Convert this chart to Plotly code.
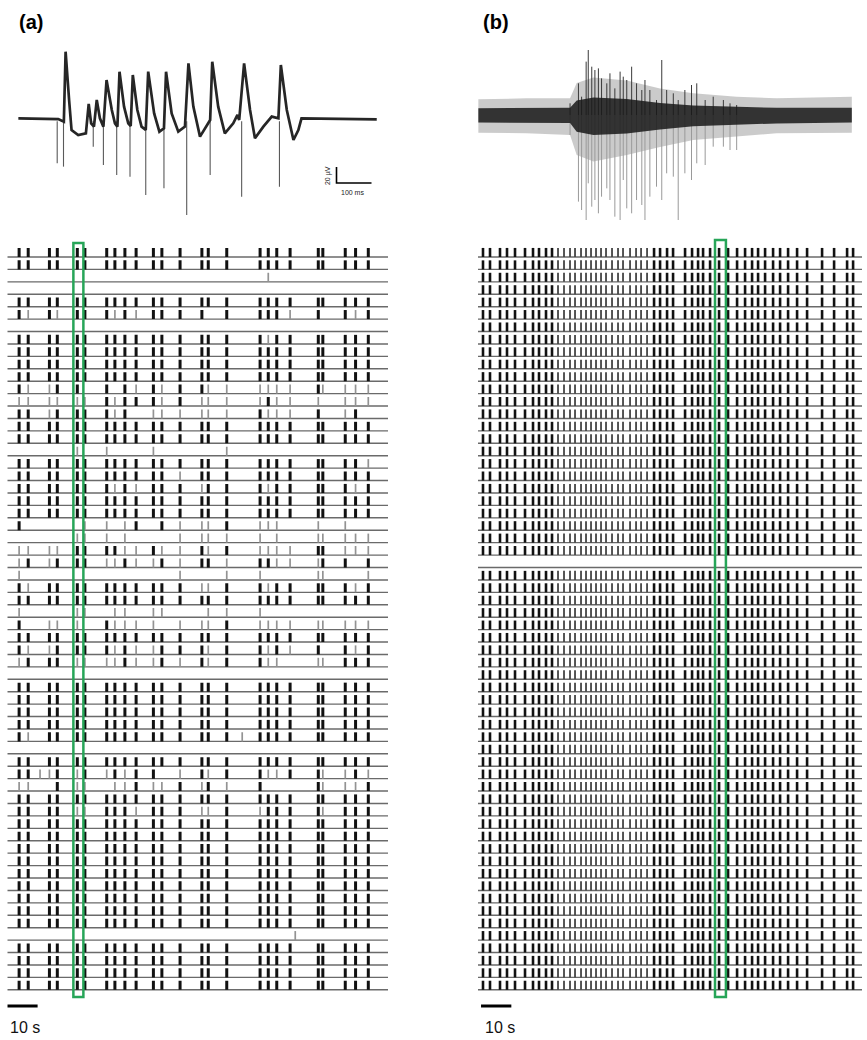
import plotly.graph_objects as go

W, H = 867, 1040

# ---------------- (a) top trace: slow waveform (ms, µV) ----------------
a_wave_ms = [1, 115, 131, 136, 146, 153, 172, 194, 202, 209, 217, 225, 234, 244, 253, 268, 277, 284,
             290, 303, 315, 322, 328, 341, 353, 365, 372, 389, 404, 417, 423, 439, 458, 477, 487, 501,
             520, 544, 549, 555, 572, 591, 615, 627, 632, 646, 663, 677, 701, 725, 744, 751, 768, 787,
             801, 810, 1025]
a_wave_uv = [-0.4, -1.3, -4.6, 82.9, 22.5, -15, -21.3, -19.2, 17.5, -6.7, -10.8, 22.5, -0.4, -10.8,
             47.5, 10, -6.7, -10.8, 57.9, 14.2, -6.7, -10, 53.8, 10, -10.8, -15, 57.9, 5.8, -17.1,
             -12.9, 57.9, 5.8, -17.1, -10.8, 68.3, 14.2, -23.3, -6.7, -2.5, 70.4, 14.2, -19.2, -6.7,
             3.8, -2.5, 68.3, 10, -25.4, -10.8, 1.7, -0.4, 66.3, 10, -27.5, -15, -0.4, -1.7]
# fast downward spikes (ms, trough µV)
a_spike_ms = [112, 130, 215, 244, 282, 320, 365, 417, 482, 549, 639, 747]
a_spike_uv = [-56.7, -60.8, -35.8, -58.8, -71.3, -73.3, -96.3, -87.9, -121.3, -71.3, -98.3, -85.8]

# ---------------- (b) top trace: noise band envelopes + spikes ----------------
b_env_ms = [1, 139, 263, 282, 330, 425, 520, 615, 739, 853, 1068]
b_core_hi = [8.5, 8.5, 9, 18, 22, 20, 15, 12, 10, 9, 9]
b_core_lo = [-9.5, -9.5, -10, -21, -25, -23, -18, -14, -12, -10.5, -9.5]
b_fringe_hi = [19.6, 20.8, 20.8, 40, 47, 43, 33, 27.1, 22.9, 20.8, 22.9]
b_fringe_lo = [-22.1, -22.9, -25, -50, -58, -50, -40, -31.3, -27.1, -22.9, -22.1]
b_spike_ms = [263, 287, 296, 309, 315, 325, 334, 344, 353, 368, 377, 391, 406, 415, 425, 439, 453,
              468, 477, 491, 510, 525, 539, 558, 572, 591, 610, 625, 649, 672, 701, 720, 739]
b_spike_top = [14.6, 39.6, 22.9, 66.7, 81.25, 60.4, 56.25, 58.3, 45.8, 39.6, 52.1, 33.3, 54.2, 47.9,
               43.75, 60.4, 39.6, 31.25, 43.75, 31.25, 18.75, 68.75, 31.25, 27.1, 18.75, 31.25, 37.5,
               39.6, 18.75, 22.9, 18.75, 14.6, 12.5]
b_spike_bot = [-25, -108.3, -118.75, -131.25, -85.4, -114.6, -106.25, -122.9, -102.1, -91.7, -106.25,
               -127.1, -131.25, -81.25, -116.7, -122.9, -106.25, -112.5, -131.25, -102.1, -89.6,
               -106.25, -72.9, -77.1, -131.25, -72.9, -81.25, -60.4, -62.5, -39.6, -39.6, -43.75, -43.75]

# ---------------- (a) raster ----------------
a_duration = 125.6
a_burst_t = [3.9, 6.9, 13.9, 16.5, 23.1, 25.6, 32.8, 35.5, 38.8, 42.5, 48.2, 51.0, 57.0, 64.2, 66.3,
             72.4, 83.4, 86.1, 88.9, 93.3, 102.6, 104.1, 111.5, 114.9, 119.1]
FULL = "BB BB BB BBBB BB B BB B BBBB BB BBB"
NONE = ".. .. .. .... .. . .. . .... .. ..."
a_rows = [
    FULL, FULL,
    ".. .. .. .... .. . .. . .g.. .. ...",
    NONE, FULL,
    "Bg Bg BB BgBg BB B B. B BBBg B. BgB",
    NONE,
    "BB BB BB BBBB BB B BB B BgBB BB BBB",
    FULL, FULL, FULL,
    "Bg gB B. B.Bg Bg B Bg g gggg Bg ggg",
    "gg gg gg BgBB Bg B gg g gBgg g. ggg",
    "BB gB BB BgB. gg g gg g Bggg B. gB.",
    FULL, FULL,
    ".. .. g. g... g. . .. g .... .. ...",
    "BB BB BB BBBB BB B BB B BBBB BB BBg",
    "BB BB BB BBBB BB g BB B BBBB BB BBB",
    "BB BB BB BgBg BB B gB B BgBB BB BgB",
    FULL, FULL,
    "B. .. .g g.gB .B g gg B ggg. g. g..",
    ".. .. gg g.g. .. g gg g g.g. gg ggg",
    "gg gg BB BBgg Bg g Bg B gggg BB ggg",
    "gB gB BB ggBg gB g BB g BBgg gB B.B",
    "g. .. .. .... .. g .. g g... gg ..g",
    "Bg BB BB BBBB BB B gg B BgBB BB BgB",
    FULL,
    "g. .. gg .gg. gg . .g g g... .. ...",
    "B. gg g. Bggg g. g gg B gggg gg ggg",
    FULL,
    "Bg gB BB BgBg gB B Bg B BgBg B. BgB",
    "gB BB gg ggBg gB g Bg B Bgg. gg BBB",
    NONE,
    FULL, FULL, FULL, FULL,
    "Bg BB BB BBBB BB B BB B BBBB BB BBB",
    NONE,
    FULL,
    "BB gB gB gBgB B. g Bg B BggB Bg gBg",
    "gg .B gg .ggB gg B gB g B... Bg ggB",
    FULL,
    "BB BB gg BBBg BB B gg B gBBB Bg BBB",
    FULL, FULL, FULL, FULL, FULL, FULL, FULL, FULL, FULL,
    NONE,
    FULL, FULL, FULL, FULL,
]
a_extra_row = [40, 43, 56]
a_extra_t = [77.5, 10.8, 95.0]
a_highlight = [21.8, 25.1]

# ---------------- (b) raster ----------------
b_duration = 126.7
b_burst_t = [1.65, 3.96, 7.26, 9.57, 12.21, 15.51, 18.15, 20.13, 22.44, 24.42, 26.4, 28.38, 30.36,
             32.01, 33.99, 35.64, 37.29, 38.94, 40.59, 42.24, 44.22, 46.2, 47.85, 50.17, 52.15, 53.8,
             55.78, 58.09, 60.07, 62.38, 64.36, 68.32, 70.63, 72.61, 74.26, 76.57, 79.54, 82.51,
             85.48, 88.12, 90.43, 92.41, 94.72, 97.36, 99.67, 102.31, 105.28, 108.58, 113.53, 117.49,
             121.78, 123.76]
b_strength = [1, 1, 1, 1, 1, 1, 1, 1, 1, 1, 0.5, 0.5, 0.5, 0.5, 0.5, 0.5, 0.5, 0.5, 0.5, 0.5, 0.5,
              0.5, 0.5, 0.5, 0.5, 0.5, 0.5, 1, 1, 1, 1, 1, 1, 1, 1, 1, 1, 1, 1, 1, 1, 1, 1, 1, 1, 1,
              1, 1, 1, 1, 1, 1]
b_row_active = [1] * 25 + [0] + [1] * 34
b_highlight = [78.2, 81.8]

N_ROWS = 60
TICK_H = 0.73
GREEN = "#27a558"


def px_x(p):
    return p / W


def px_y(p):
    return 1 - p / H


fig = go.Figure()


def segs(xs0, ys0, xs1, ys1):
    X, Y = [], []
    for a, b, c, d in zip(xs0, ys0, xs1, ys1):
        X += [a, c, None]
        Y += [b, d, None]
    return X, Y


def add_lines(X, Y, color, width, xa, ya):
    fig.add_trace(go.Scatter(x=X, y=Y, mode="lines", line=dict(color=color, width=width),
                             hoverinfo="skip", xaxis=xa, yaxis=ya))


# ---- (a) top trace ----
X, Y = segs(a_spike_ms, [-4] * len(a_spike_ms), a_spike_ms, a_spike_uv)
add_lines(X, Y, "#5a5a5a", 1.1, "x", "y")
add_lines(a_wave_ms, a_wave_uv, "#262626", 2.7, "x", "y")
# scale bar 20 µV / 100 ms
add_lines([910, 910, 1010], [-61.25, -81.25, -81.25], "#000000", 1.6, "x", "y")

# ---- (b) top trace ----
fig.add_trace(go.Scatter(x=b_env_ms + b_env_ms[::-1], y=b_fringe_hi + b_fringe_lo[::-1],
                         fill="toself", fillcolor="rgba(140,140,140,0.45)", mode="lines",
                         line=dict(width=0), hoverinfo="skip", xaxis="x3", yaxis="y3"))
X, Y = segs(b_spike_ms, [0] * len(b_spike_ms), b_spike_ms, b_spike_bot)
add_lines(X, Y, "#9a9a9a", 1.0, "x3", "y3")
X, Y = segs(b_spike_ms, [0] * len(b_spike_ms), b_spike_ms, b_spike_top)
add_lines(X, Y, "#3a3a3a", 1.0, "x3", "y3")
fig.add_trace(go.Scatter(x=b_env_ms + b_env_ms[::-1], y=b_core_hi + b_core_lo[::-1],
                         fill="toself", fillcolor="rgba(25,25,25,0.85)", mode="lines",
                         line=dict(width=0), hoverinfo="skip", xaxis="x3", yaxis="y3"))

# ---- (a) raster ----
rows = list(range(1, N_ROWS + 1))
X, Y = segs([0] * N_ROWS, rows, [a_duration] * N_ROWS, rows)
add_lines(X, Y, "#6a6a6a", 1.4, "x2", "y2")
strong_t, strong_r, weak_t, weak_r = [], [], [], []
for r, pat in zip(rows, a_rows):
    p = pat.replace(" ", "")
    for t, ch in zip(a_burst_t, p):
        if ch == "B":
            strong_t.append(t); strong_r.append(r)
        elif ch == "g":
            weak_t.append(t); weak_r.append(r)
weak_t += a_extra_t
weak_r += a_extra_row
X, Y = segs(weak_t, weak_r, weak_t, [r - TICK_H for r in weak_r])
add_lines(X, Y, "#939393", 1.7, "x2", "y2")
X, Y = segs(strong_t, strong_r, strong_t, [r - TICK_H for r in strong_r])
add_lines(X, Y, "#111111", 3.0, "x2", "y2")

# ---- (b) raster ----
X, Y = segs([0] * N_ROWS, rows, [b_duration] * N_ROWS, rows)
add_lines(X, Y, "#6a6a6a", 1.4, "x4", "y4")
bs_t, bs_r, bw_t, bw_r = [], [], [], []
for r, act in zip(rows, b_row_active):
    if not act:
        continue
    for t, s in zip(b_burst_t, b_strength):
        if s >= 1:
            bs_t.append(t); bs_r.append(r)
        else:
            bw_t.append(t); bw_r.append(r)
X, Y = segs(bw_t, bw_r, bw_t, [r - TICK_H for r in bw_r])
add_lines(X, Y, "#444444", 1.8, "x4", "y4")
X, Y = segs(bs_t, bs_r, bs_t, [r - TICK_H for r in bs_r])
add_lines(X, Y, "#111111", 2.6, "x4", "y4")

# highlight rectangles
shapes = [
    dict(type="rect", xref="x2", yref="y2 domain", x0=a_highlight[0], x1=a_highlight[1], y0=0, y1=1,
         line=dict(color=GREEN, width=2.5)),
    dict(type="rect", xref="x4", yref="y4 domain", x0=b_highlight[0], x1=b_highlight[1], y0=0, y1=1,
         line=dict(color=GREEN, width=2.5)),
    # 10 s scale bars
    dict(type="line", xref="x2", yref="paper", x0=0, x1=10, y0=px_y(1006), y1=px_y(1006),
         line=dict(color="black", width=3)),
    dict(type="line", xref="x4", yref="paper", x0=1, x1=11, y0=px_y(1006), y1=px_y(1006),
         line=dict(color="black", width=3)),
]

font = "Liberation Sans, Arial, sans-serif"
annotations = [
    dict(text="<b>(a)</b>", x=px_x(17), y=px_y(22), xref="paper", yref="paper", xanchor="left",
         yanchor="middle", showarrow=False, font=dict(size=20, family=font, color="black")),
    dict(text="<b>(b)</b>", x=px_x(481), y=px_y(22), xref="paper", yref="paper", xanchor="left",
         yanchor="middle", showarrow=False, font=dict(size=20, family=font, color="black")),
    dict(text="10 s", x=px_x(8), y=px_y(1027), xref="paper", yref="paper", xanchor="left",
         yanchor="middle", showarrow=False, font=dict(size=16, family=font, color="#111")),
    dict(text="10 s", x=px_x(483), y=px_y(1027), xref="paper", yref="paper", xanchor="left",
         yanchor="middle", showarrow=False, font=dict(size=16, family=font, color="#111")),
    dict(text="20 µV", x=886, y=-72.5, xref="x", yref="y", textangle=-90, showarrow=False,
         font=dict(size=7, family=font, color="#222")),
    dict(text="100 ms", x=957, y=-93.75, xref="x", yref="y", showarrow=False,
         font=dict(size=7, family=font, color="#222")),
]


def ax(domain, rng, anchor):
    return dict(domain=domain, range=rng, visible=False, fixedrange=True, anchor=anchor)


fig.update_layout(
    width=W, height=H, margin=dict(l=0, r=0, t=0, b=0),
    paper_bgcolor="white", plot_bgcolor="rgba(0,0,0,0)", showlegend=False,
    xaxis=ax([px_x(10), px_x(390)], [-22.86, 1062.86], "y"),
    yaxis=ax([px_y(220), px_y(45)], [-127.5, 91.25], "x"),
    xaxis2=ax([px_x(7.3), px_x(388)], [0, a_duration], "y2"),
    yaxis2=ax([px_y(997), px_y(243)], [60.58, -0.127], "x2"),
    xaxis3=ax([px_x(470), px_x(860)], [-22.86, 1091.4], "y3"),
    yaxis3=ax([px_y(225), px_y(45)], [-137.5, 87.5], "x3"),
    xaxis4=ax([px_x(478), px_x(862)], [0, b_duration], "y4"),
    yaxis4=ax([px_y(997), px_y(240)], [60.58, -0.369], "x4"),
    shapes=shapes, annotations=annotations,
)

fig.write_html("out.html", config={"displayModeBar": False},
               post_script="document.body.style.margin='0';document.body.style.overflow='hidden';")
